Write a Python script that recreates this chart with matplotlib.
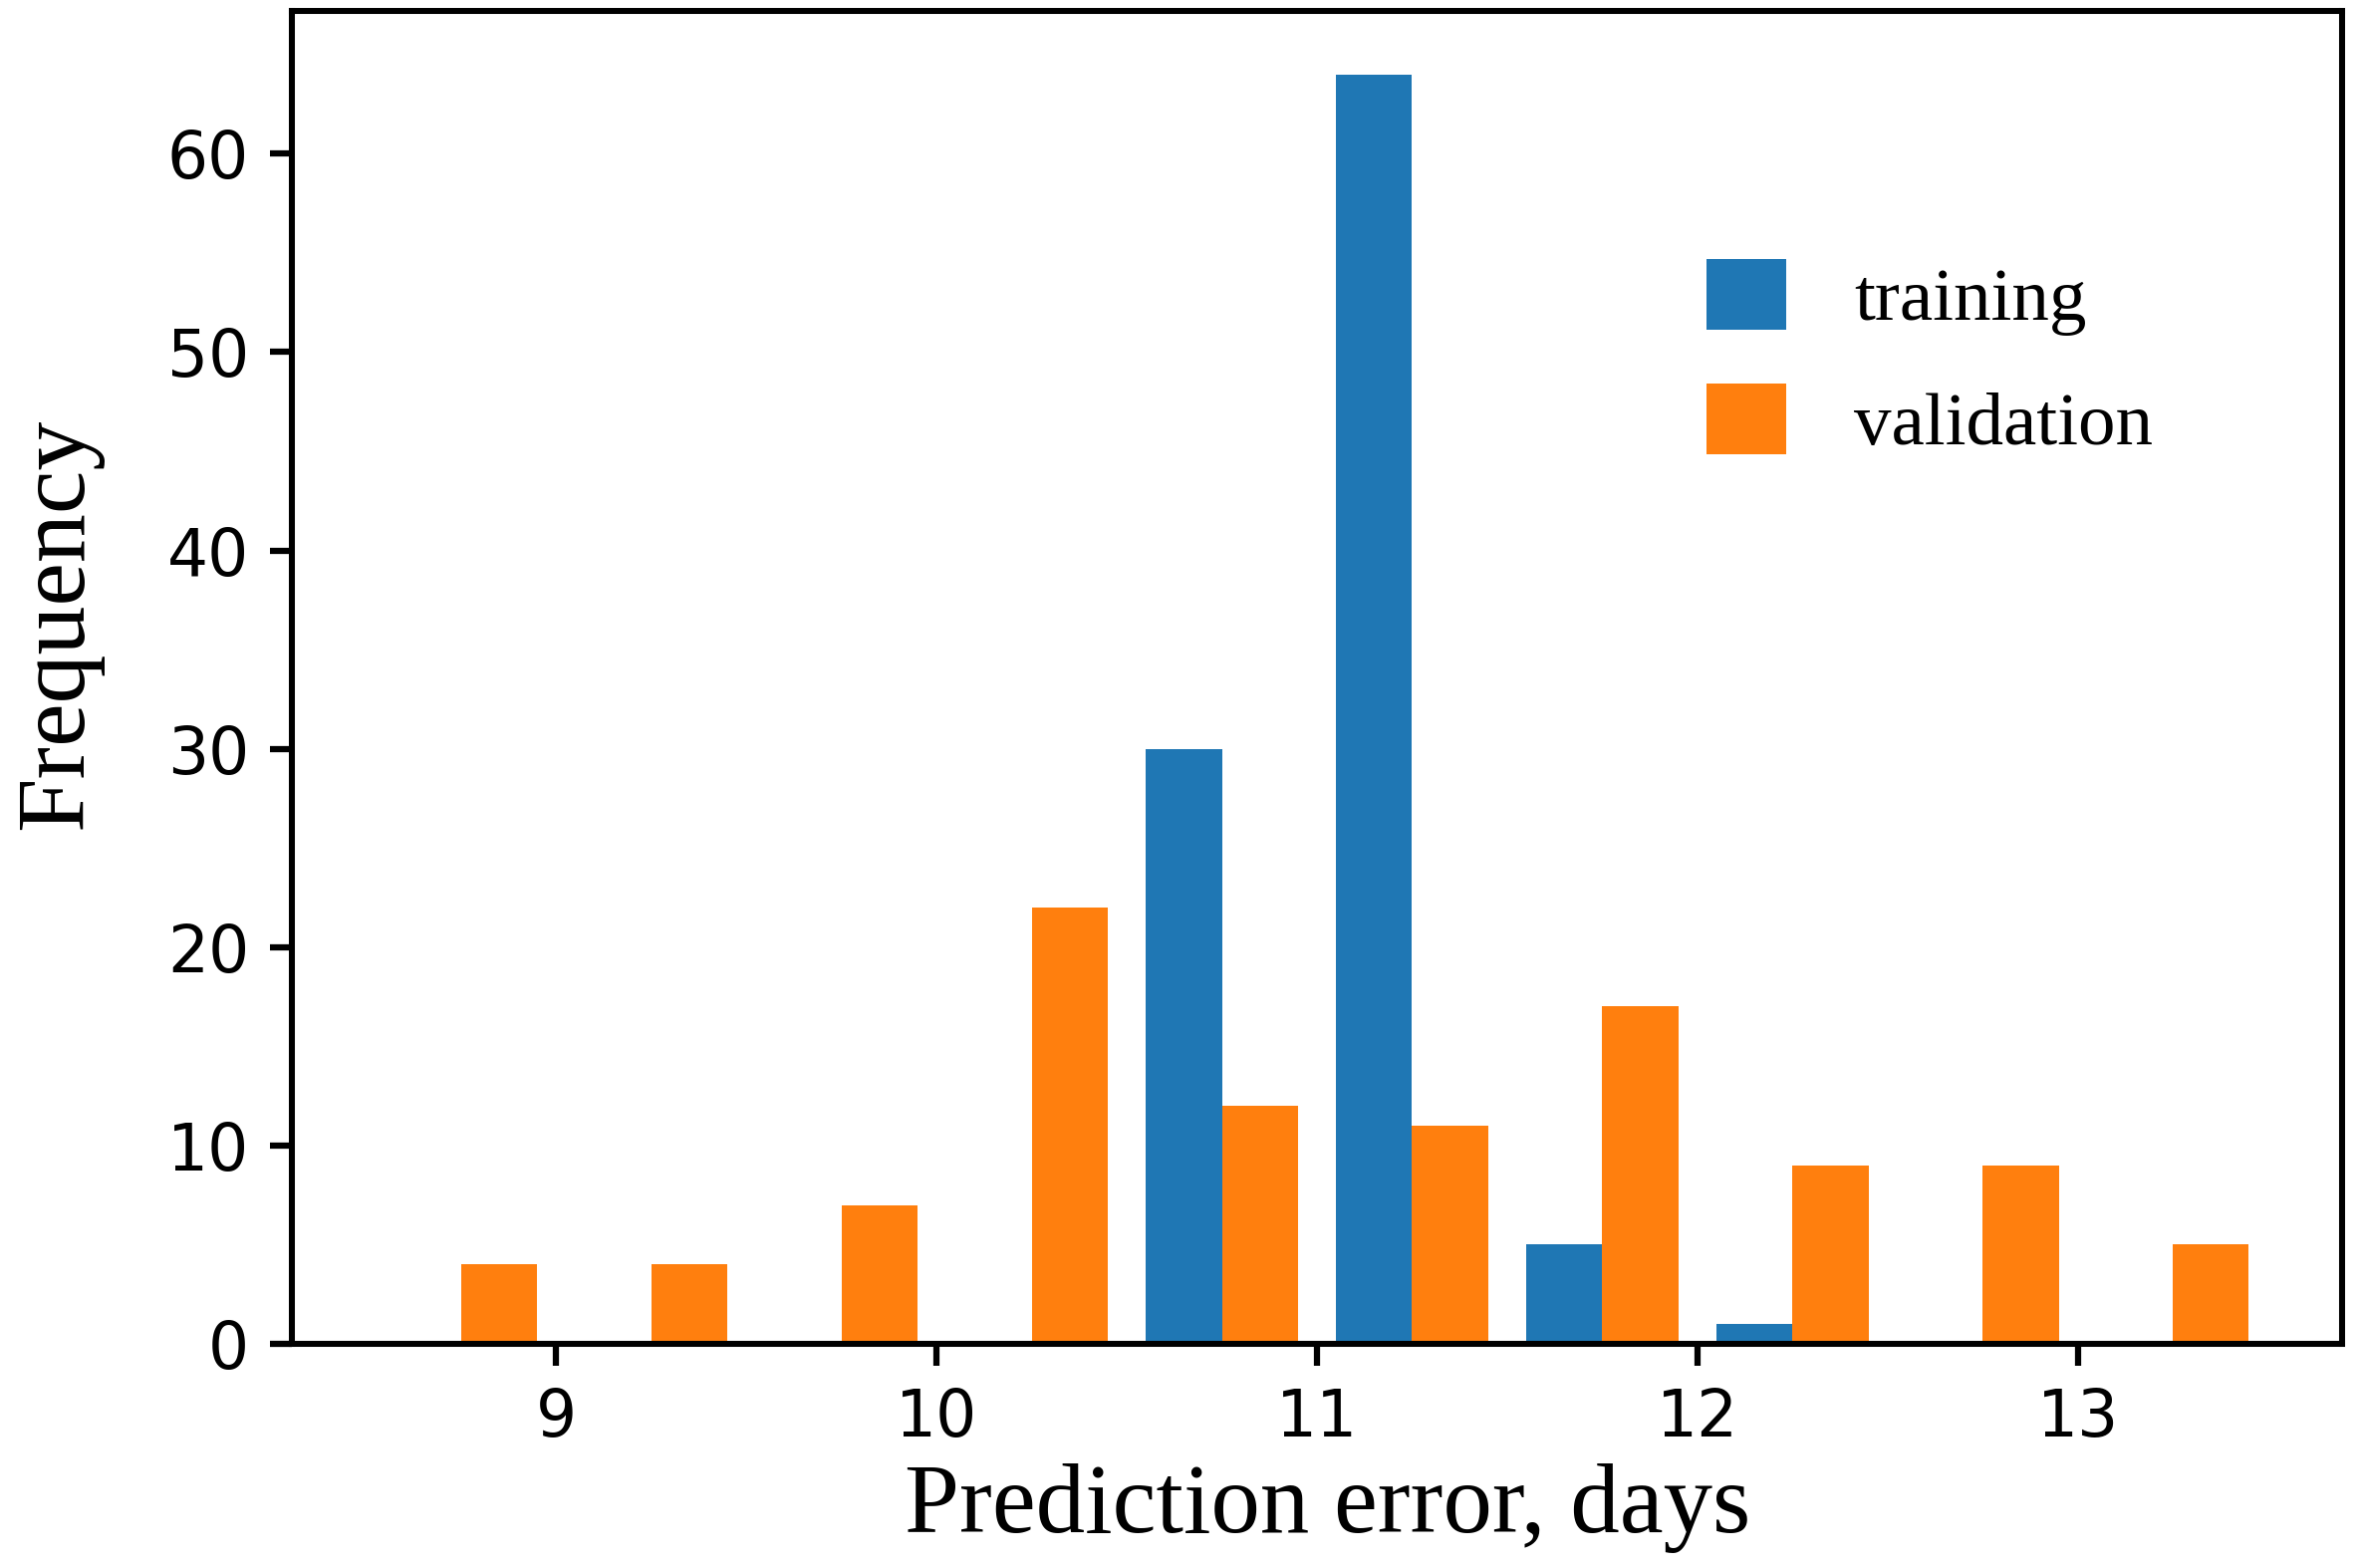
import numpy as np
from matplotlib import pyplot as plt

# histogram bins (days) and counts
BIN_EDGES = [8.5, 9.0, 9.5, 10.0, 10.5, 11.0, 11.5, 12.0, 12.5, 13.0, 13.5]
TRAINING = [0, 0, 0, 0, 30, 64, 5, 1, 0, 0]
VALIDATION = [4, 4, 7, 22, 12, 11, 17, 9, 9, 5]
LABELS = ["training", "validation"]
X_TICKS = [9, 10, 11, 12, 13]
Y_TICKS = [0, 10, 20, 30, 40, 50, 60]

SERIF = ["Liberation Serif", "DejaVu Serif"]

edges = np.array(BIN_EDGES)
centers = (edges[:-1] + edges[1:]) / 2

fig = plt.figure(figsize=(7.9, 5.2467), dpi=300)
ax = fig.add_axes([0.1236, 0.143, 0.8684, 0.85])

ax.hist([centers, centers], bins=edges, weights=[TRAINING, VALIDATION],
        color=["#1f77b4", "#ff7f0e"], label=LABELS)

ax.set_xticks(X_TICKS)
ax.set_yticks(Y_TICKS)
ax.tick_params(labelsize=15.5, width=1.5, length=5.3, pad=5)
for side in ax.spines.values():
    side.set_linewidth(1.45)

ax.set_xlabel("Prediction error, days", family=SERIF, fontsize=23.7)
ax.set_ylabel("Frequency", family=SERIF, fontsize=23.5)
ax.xaxis.set_label_coords(0.505, -0.09)
ax.yaxis.set_label_coords(-0.092, 0.54)

ax.legend(loc="upper left", bbox_to_anchor=(0.690, 0.814), frameon=False,
          prop={"family": SERIF, "size": 18}, handlelength=1.07,
          handleheight=1.08, handletextpad=0.9, labelspacing=0.64,
          borderpad=0, borderaxespad=0)

fig.savefig("out.png", dpi=300)
